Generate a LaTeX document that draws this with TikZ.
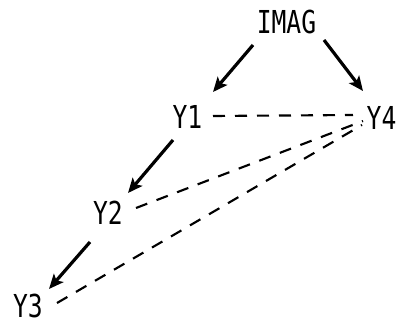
\documentclass[tikz,border=0pt]{standalone}
\usepackage{fontspec}
\newfontfamily\diagfont[FakeStretch=0.78]{DejaVu Sans Mono}
\usetikzlibrary{arrows.meta,calc}
\begin{document}
\begin{tikzpicture}[x=0.75pt,y=-0.75pt,
  lbl/.style={inner sep=0pt,font=\diagfont\fontsize{23.7pt}{24pt}\selectfont},
  arr/.style={line width=2.4pt,-{Stealth[length=11pt,width=9.5pt,inset=2.5pt]}},
  dsh/.style={line width=1.6pt,dash pattern=on 9pt off 7.5pt}]
\fill[white] (0,0) rectangle (397,324);
\useasboundingbox (0,0) rectangle (397,324);
\node[lbl] (imag) at (286.5,21.5) {IMAG};
\node[lbl] (y1) at (187.5,116.5) {Y1};
\node[lbl] (y4) at (381.5,117.5) {Y4};
\node[lbl] (y2) at (108,213) {Y2};
\node[lbl] (y3) at (28,305.5) {Y3};
\draw[arr] ($(imag)+(-33.5,23.5)$) -- ($(y1)+(25.5,-24.5)$);
\draw[arr] ($(imag)+(37.5,18.5)$) -- ($(y4)+(-18.5,-26.5)$);
\draw[arr] ($(y1)+(-14.5,23.5)$) -- ($(y2)+(20,-20)$);
\draw[arr] ($(y2)+(-18,29)$) -- ($(y3)+(21,-16.5)$);
\draw[dsh] ($(y1)+(25.5,-0.5)$) -- ($(y4)+(-28.5,-2.5)$);
\draw[dsh] ($(y2)+(28,-5)$) -- ($(y4)+(-18.5,3.5)$);
\draw[dsh] ($(y3)+(29,-2.5)$) -- ($(y4)+(-19.5,7.5)$);
\end{tikzpicture}
\end{document}
